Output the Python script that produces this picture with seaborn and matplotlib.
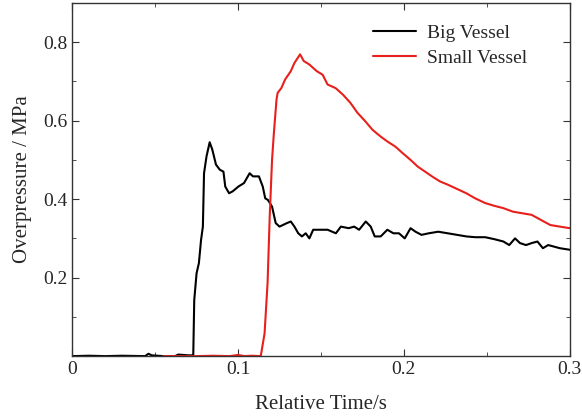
"""Overpressure curves for the big and small vessel."""
import numpy as np
import pandas as pd
import matplotlib
matplotlib.use("Agg")
import matplotlib.pyplot as plt
import seaborn as sns
from matplotlib.ticker import MultipleLocator

# Big vessel (black)
big_t = [0.0, 0.010, 0.020, 0.030, 0.044, 0.046, 0.048, 0.055, 0.062, 0.064, 0.070, 0.073,
         0.0736, 0.075, 0.0764, 0.0777, 0.0788, 0.0795, 0.081, 0.0829, 0.0845, 0.0867,
         0.089, 0.0912, 0.0923, 0.0946, 0.0968, 0.1002, 0.1036, 0.107, 0.109, 0.1126,
         0.1149, 0.1164, 0.118, 0.1205, 0.1227, 0.125, 0.1295, 0.1318, 0.134, 0.1363,
         0.1385, 0.1408, 0.143, 0.1453, 0.15, 0.154, 0.159, 0.162, 0.1667, 0.170, 0.173,
         0.177, 0.180, 0.1824, 0.186, 0.190, 0.1937, 0.197, 0.2005, 0.204, 0.207, 0.2106,
         0.215, 0.2207, 0.2264, 0.232, 0.2376, 0.243, 0.249, 0.2545, 0.260, 0.2635,
         0.267, 0.270, 0.2736, 0.277, 0.2805, 0.2838, 0.287, 0.2905, 0.294, 0.300]
big_p = [0.0, 0.001, 0.0, 0.001, 0.0, 0.006, 0.002, 0.0, 0.0, 0.004, 0.002, 0.002,
         0.143, 0.211, 0.237, 0.296, 0.33, 0.466, 0.509, 0.545, 0.526, 0.488,
         0.475, 0.47, 0.432, 0.415, 0.42, 0.432, 0.441, 0.466, 0.458, 0.458,
         0.432, 0.402, 0.398, 0.381, 0.339, 0.33, 0.339, 0.343, 0.33, 0.313,
         0.305, 0.313, 0.30, 0.322, 0.322, 0.322, 0.313, 0.33, 0.326, 0.33, 0.322,
         0.343, 0.33, 0.305, 0.305, 0.322, 0.313, 0.313, 0.30, 0.326, 0.317, 0.309,
         0.313, 0.317, 0.313, 0.309, 0.305, 0.303, 0.303, 0.298, 0.292, 0.283,
         0.30, 0.288, 0.283, 0.288, 0.292, 0.275, 0.283, 0.279, 0.275, 0.271]

# Small vessel (red)
small_t = [0.055, 0.065, 0.075, 0.085, 0.095, 0.100, 0.104, 0.108, 0.1137,
           0.116, 0.1178, 0.1191, 0.1205, 0.1216, 0.1232, 0.1239, 0.1261, 0.1284,
           0.1318, 0.134, 0.1374, 0.1396, 0.143, 0.1475, 0.151, 0.154, 0.1588,
           0.1633, 0.1678, 0.172, 0.1768, 0.181, 0.1858, 0.190, 0.1948, 0.1993,
           0.204, 0.2083, 0.2128, 0.2173, 0.2218, 0.2264, 0.232, 0.2376, 0.243,
           0.249, 0.2545, 0.260, 0.2658, 0.2714, 0.277, 0.2826, 0.2883, 0.294, 0.300]
small_p = [0.0, 0.0, 0.0, 0.001, 0.0, 0.003, 0.0, 0.001, 0.0,
           0.058, 0.186, 0.356, 0.50, 0.568, 0.654, 0.671, 0.683, 0.705,
           0.726, 0.747, 0.769, 0.752, 0.743, 0.726, 0.717, 0.692, 0.683,
           0.666, 0.645, 0.62, 0.598, 0.577, 0.56, 0.547, 0.534, 0.517,
           0.50, 0.483, 0.47, 0.457, 0.445, 0.437, 0.426, 0.415, 0.402,
           0.39, 0.383, 0.377, 0.368, 0.364, 0.36, 0.347, 0.334, 0.33, 0.326]

series_names = ["Big Vessel", "Small Vessel"]
colors = ["#000000", "#e8201c"]
x_ticks = [0, 0.1, 0.2, 0.3]
x_labels = ["0", "0.1", "0.2", "0.3"]
y_ticks = [0.2, 0.4, 0.6, 0.8]

df = pd.concat([
    pd.DataFrame({"t": big_t, "p": big_p, "series": series_names[0]}),
    pd.DataFrame({"t": small_t, "p": small_p, "series": series_names[1]}),
], ignore_index=True)

sns.set_style("ticks")
plt.rcParams["font.family"] = ["Liberation Serif", "DejaVu Serif"]

fig = plt.figure(figsize=(5.82, 4.17), dpi=100)
ax = fig.add_axes([0.124, 0.146, 0.855, 0.847])

sns.lineplot(data=df, x="t", y="p", hue="series", palette=dict(zip(series_names, colors)),
             estimator=None, sort=False, linewidth=1.5, ax=ax)

ax.set_xticks(x_ticks, labels=x_labels)
ax.xaxis.set_minor_locator(MultipleLocator(0.05))
ax.set_yticks(y_ticks, labels=[f"{v:.1f}" for v in y_ticks])
ax.yaxis.set_minor_locator(MultipleLocator(0.1))
ax.set_xlim(0, 0.3)
ax.set_ylim(0, 0.9)
ax.tick_params(which="both", direction="in", top=True, right=True, labelsize=14, color="#333333")
ax.tick_params(which="major", length=5)
ax.tick_params(which="minor", length=3)
for s in ax.spines.values():
    s.set_color("#333333")
    s.set_linewidth(1.0)

ax.set_xlabel("Relative Time/s", fontsize=15, labelpad=12)
ax.set_ylabel("Overpressure / MPa", fontsize=15, labelpad=8)

handles, labels = ax.get_legend_handles_labels()
ax.legend(handles, labels, loc="upper right", frameon=False, fontsize=14,
          bbox_to_anchor=(0.95, 0.99), handlelength=2.2, handletextpad=0.6, labelspacing=0.4)

fig.savefig("out.png", dpi=100)
